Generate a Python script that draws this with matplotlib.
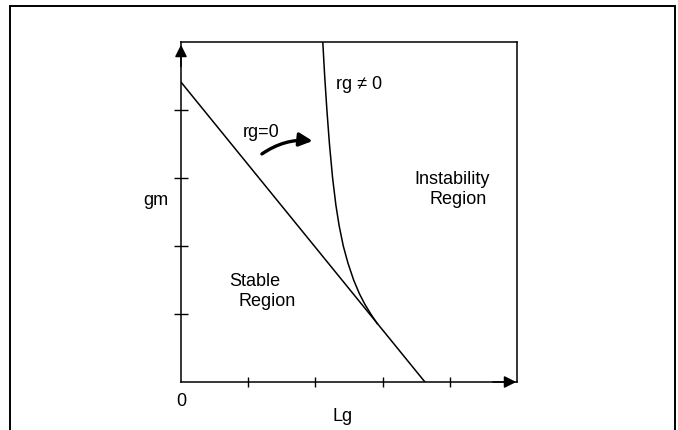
import matplotlib
matplotlib.use('Agg')
import matplotlib.pyplot as plt
from matplotlib.patches import Rectangle

plt.rcParams['font.family'] = ['Liberation Sans', 'DejaVu Sans']

# rg = 0 boundary (straight line)
line_x = [0.0, 3.63]
line_y = [4.41, 0.0]

# rg != 0 boundary
curve_x = [2.11, 2.138, 2.171, 2.209, 2.256, 2.305, 2.353, 2.415, 2.484, 2.569, 2.654, 2.732, 2.824, 2.92]
curve_y = [5.0, 4.5, 4.0, 3.5, 3.0, 2.6, 2.3, 2.0, 1.75, 1.5, 1.3, 1.15, 1.0, 0.86]

tick_pos = [1, 2, 3, 4]

W, H = 678, 431
fig = plt.figure(figsize=(W / 100, H / 100), dpi=100)

# outer frame of the figure
fig.patches.append(Rectangle((10 / W, -0.02), 665 / W, 1.02 - 7 / H,
                             transform=fig.transFigure, fill=False,
                             lw=1.4, ec='k', clip_on=False))

ax = fig.add_axes([181 / W, (H - 383) / H, 336 / W, 340 / H])
ax.set_xlim(0, 5)
ax.set_ylim(0, 5)
for s in ax.spines.values():
    s.set_linewidth(1.1)
ax.set_xticks(tick_pos)
ax.set_yticks(tick_pos)
ax.set_xticklabels([])
ax.set_yticklabels([])
ax.tick_params(axis='y', direction='inout', length=10, width=1.0)
ax.tick_params(axis='x', direction='inout', length=7, width=1.0)

# axis arrows
ax.annotate('', xy=(0, 5.0), xytext=(0, 4.6),
            arrowprops=dict(arrowstyle='-|>', color='k', lw=1.1, mutation_scale=18),
            annotation_clip=False)
ax.annotate('', xy=(5.03, 0), xytext=(4.6, 0),
            arrowprops=dict(arrowstyle='-|>', color='k', lw=1.1, mutation_scale=18),
            annotation_clip=False)

ax.plot(line_x, line_y, color='k', lw=1.1)
ax.plot(curve_x, curve_y, color='k', lw=1.1)

# curved arrow rg=0 -> rg!=0
ax.annotate('', xy=(2.0, 3.54), xytext=(1.17, 3.33),
            arrowprops=dict(arrowstyle='-|>', color='k', lw=2.4, mutation_scale=20,
                            connectionstyle='arc3,rad=-0.2'))

fs = 13
ax.text(1.19, 3.69, 'rg=0', fontsize=fs, ha='center', va='center')
ax.text(2.65, 4.39, 'rg \u2260 0', fontsize=fs, ha='center', va='center')
ax.text(1.1, 1.5, 'Stable', fontsize=fs, ha='center', va='center')
ax.text(1.28, 1.2, 'Region', fontsize=fs, ha='center', va='center')
ax.text(4.03, 3.0, 'Instability', fontsize=fs, ha='center', va='center')
ax.text(4.12, 2.7, 'Region', fontsize=fs, ha='center', va='center')
ax.text(-0.38, 2.68, 'gm', fontsize=fs, ha='center', va='center')
ax.text(0.0, -0.27, '0', fontsize=fs, ha='center', va='center')
ax.text(2.4, -0.5, 'Lg', fontsize=fs, ha='center', va='center')

fig.savefig('out.png', dpi=100)
